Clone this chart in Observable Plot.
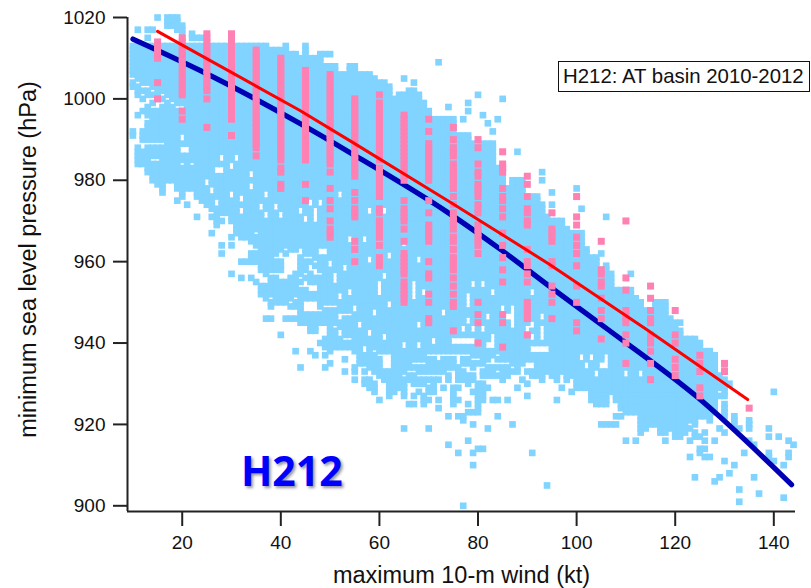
<!DOCTYPE html>
<html>
<head>
<meta charset="utf-8">
<script src="https://cdn.jsdelivr.net/npm/d3@7"></script>
<script src="https://cdn.jsdelivr.net/npm/@observablehq/plot@0.6"></script>
<style>
html,body{margin:0;padding:0;background:#fff}
#wrap{position:relative;width:811px;height:588px;overflow:hidden}
#box{position:absolute;left:558px;top:61px;height:31px;width:252px;box-sizing:border-box;border:1.6px solid #111;background:#fff;
 font:20.4px "Liberation Sans",Arial,sans-serif;color:#111;line-height:28px;padding-left:4px;white-space:nowrap;overflow:hidden}
#tag{position:absolute;left:241px;top:441px;font:700 41px "Open Sans",sans-serif;color:#0000ff;text-shadow:2px 2px 3px rgba(60,60,90,.55);line-height:58px}
</style>
</head>
<body>
<div id="wrap"></div>
<script>
const xTicks = [20, 40, 60, 80, 100, 120, 140];
const yTicks = [900, 920, 940, 960, 980, 1000, 1020];
const xLabel = "maximum 10-m wind (kt)";
const yLabel = "minimum sea level pressure (hPa)";
const boxText = "H212: AT basin 2010-2012";
const tagText = "H212";

// one string per wind (kt), pressure ranges in hPa
const cloudStart = 10;
const cloudColumns = [
"1013-1006 1004 1003 992 991",
"1017 1013-1005 1003 1002 1001 996 988-984",
"1013-1004 1002 1000 997 992-990 987-984",
"1017 1015 1013-1004 1002 1001 998-996 994-990 988-982",
"1017 1013-1003 1001 999 997-990 988-986 984-980",
"1020 1013-1000 997-990 988-986 984-979",
"1013-1002 1000 998-990 988-977",
"1020 1019 1018 1013-1001 999-980",
"1020 1019 1018 1013-1000 998-980",
"1020 1019 1018 1017 1013-999 997-978 975",
"1018 1017 1016 1013-999 997-985 983-976",
"1013-978 974",
"1016 1015 1013-985 983-978",
"1015 1013-976 971",
"1015 1013-975",
"1013-974",
"1013-973 971 967",
"1013-984 981-969",
"1013-984 981-972 970 964 962",
"1013-972",
"1013-970 966 964 957",
"1013-967",
"1013-974 971-966 960 956",
"1013-966 960",
"1013-965 962-960 956",
"1013-968 966-964 962-960 955",
"1013-958 954-952",
"1013-957 954-951 946",
"1012-958 956-952 950-949 946",
"1012-962 960-958 956-951 950",
"1012-963 960-958 955-950 942",
"1013-964 962 955-950 946",
"1011-963 956-951 949 946",
"1011-963 957-952 950-949 946 938",
"1010-964 961-957 955 953-949 948-945 934",
"1013-962 960-958 956 953-951 947-945",
"1010-962 960 957 956-955 952-951 947-945 944-943 938",
"1010-961 959 956-955 952-951 947-945 944-943 937",
"1011-958 956-949 947-945 940",
"1011 1008-950 948-945 941-939 937 934",
"1011 1008-950 948-944 943-941 940-938 935",
"1008-950 948-945 943-941 940-939",
"1006-948 945-944 941-939",
"1006-948 946-942 940-939 936 933",
"1008-948 946-942 940-939",
"1008-942 941-938 934-933 931",
"1006-942 941-939 938-935",
"1006-943 942-940 937-935 933 931-930",
"1006-944 941-935 934 931-929",
"1005-944 943-939 937-933 930-928",
"1004-938 936-932 926",
"1004-938 933-931",
"1003-938 933-930 929-927",
"1000-930 929-928",
"1001-934 933-929",
"1005 1001-933 931-927 919",
"1002-936 935-934 932-931 925",
"1004 1002-936 934 932-930 927 925",
"1001-936 934-933 931-930 928",
"999-936 934-933 931-930 927-925",
"997-938 936-933 931 929-928 926 919",
"995-938 936-933 931-928",
"1009 995-938 936-933 931 926 924",
"995-938 936-933 929",
"998 995-938 936-934 932-931 922 915",
"995-938 936-934 929-925",
"991-938 934-931 929 926 922 913",
"995 991-938 936-935 933-931 922 921 900",
"999 997 991-938 936-935 932-931 930 925 923 916",
"989-937 935-934 932-931 928 923 920 913 910",
"1001 989-937 935 930-925 924 923 914",
"996 989-935 933-932 930-926 914",
"994 989-936 934-932 929 919",
"992 989-937 934-932 926",
"995 983-938 936 934 932 926 922",
"1000 983-936 934-931",
"978-936 934-932 926",
"980-935 933 920",
"987 980-933 929",
"980-935 931",
"976-936 933 930 927",
"976-936 933-932 913",
"976-932",
"982 980 974-931",
"971-933 905",
"977 974 970-932",
"970-932 931 926",
"970-933 929",
"968-931",
"967-932 928",
"978 967-929",
"973 967-929",
"963-929",
"961-926",
"961-925",
"962 958-925 920",
"971 959-925 920",
"957-928 920",
"953-926 922 920",
"953-924 922",
"953-923 916",
"957 953-923",
"951-923 916",
"950-918",
"948-919",
"948-920",
"950-920",
"950-918",
"950-918 916",
"946-919",
"945-917",
"945 943-917",
"941-918",
"941-921 919 916 912",
"941-920 918 917 907",
"940-922 917 914 913",
"938-922 918 916 914 912",
"938-921 912",
"937-923 916 906",
"932-929 927 919 907",
"934 931-927 925-922 918 911",
"930 908",
"922-920 910",
"919 904 901",
"913",
"921-919 916",
"915 907",
"903",
"",
"919 917 913 912",
"928 911",
"917",
"910 902",
"916 913 912",
"915"
];

// thin white slits in the cloud: wind and pressure of each slit
const slitWinds = [58,61,57,65,62,68,61,67,60,58,79,81,78,83,73,78,86,87,81,67,20,20,21,34,37,36,39,45,47,34,30,28,31,25,26,27,30,32,37,40,44,47,46,48,52,54,49,50,51,52,48,50,53,51,52,55,54,60,62,61,60,62,59,56,61,68,78,79,73,78,67,69,71,68,65,78,82,86,91,93,77,79,83,91,93,82,83,91,93,72,75,76,77,78,79,103,106,102,105,104,110,113,91,87,85,87,93,93,87,90,91,93,94,92,101,103,106,106];
const slitPressures = [973,973,966,965,962,961,957,955,953,961,955,955,952,953,948,946,947,949,944,952,991,988,988,979,977,974,974,971,971,982,984,986,986,980,978,975,977,976,972,972,973,973,975,975,977,966,963,960,957,952,963,960,959,956,952,949,953,953,962,957,955,950,948,945,942,945,946,944,948,950,954,953,941,940,940,946,947,947,945,944,944,944,942,942,942,940,940,939,939,937,941,941,941,941,941,937,937,935,935,933,933,933,953,949,949,947,947,944,945,944,942,942,939,939,937,937,937,935];

// subset cloud (pink): reported winds every 5 kt
const pinkWinds = [15,20,25,30,35,40,45,50,55,60,65,70,75,80,85,90,95,100,105,110,115,120,125,130,135];
const pinkColumns = [
"1014-1010 1004 1000",
"1015-1001 997 995",
"1016-1002 1000 993",
"1016-995 991",
"1012-1000 999-992 991-988 986",
"1010-985 983-982 979-978",
"1007-985 979 975",
"1006-985 984 982 978 975 973 970 968-966",
"1000-981 977 975 973-971 965 963 960",
"1001 999-985 983-976 973-972 970-966 964 961-959",
"996-980 975 973-970 968 965 962-957 955-950",
"995 992 989-980 975 972 969-965 960 957-956 952 950 946-945",
"993 990 988-986 984-978 976 974 972-968 966-965 963 961-958 956 954 952 950-949 943",
"990 988 984 982-981 979-976 974-972 969-964 962 950 947 945 940",
"987 984-982 978 976-975 973 971 967 964 961 958 955 947 945 939",
"981 979 976 973-972 970-969 963 960-959 957 955 950-946 942",
"972 968-965 960-959 954 952 950 946",
"976 971 969 966 964 962 959 954 950 945 943",
"965 958-957 955-954 951 948 946 941",
"970 956 953 948-945 942 940 935",
"954 951 948 946-945 942-940 938 935 931",
"948 942 940 936 934 932",
"937 935 933 929 927",
"935 933",
"924"
];

const navyWind = [10, 23.6, 43.8, 53.9, 74.1, 84.8, 94.3, 106.5, 124.6, 143.6];
const navyPressure = [1014.7, 1007, 994, 986.9, 971.9, 962.8, 954.1, 943.2, 926.6, 905.2];
const redWind = [15, 43.8, 53.9, 74.8, 94.3, 114.5, 134.7];
const redPressure = [1016.6, 997.2, 989.8, 974.3, 959.5, 943.1, 926.1];

function expand(wind, column) {
  const out = [];
  for (const tok of column.split(" ").filter(Boolean)) {
    const [a, b] = tok.split("-").map(Number);
    const lo = b === undefined ? a : b;
    for (let p = a; p >= lo; p--) out.push({wind, pressure: p});
  }
  return out;
}
const slitKeys = new Set(slitWinds.flatMap((w, i) => [w + ":" + slitPressures[i], w + ":" + (slitPressures[i] - 1)]));
const cloud = cloudColumns.flatMap((c, i) => expand(cloudStart + i, c)).filter(d => !slitKeys.has(d.wind + ":" + d.pressure));
const pink = pinkColumns.flatMap((c, i) => expand(pinkWinds[i], c));
const navy = navyWind.map((w, i) => ({wind: w, pressure: navyPressure[i]}));
const red = redWind.map((w, i) => ({wind: w, pressure: redPressure[i]}));

const font = '"Liberation Sans", Arial, sans-serif';
const chart = Plot.plot({
  width: 811,
  height: 588,
  marginLeft: 127,
  marginRight: 16,
  marginTop: 17,
  marginBottom: 77,
  style: {fontFamily: font, fontSize: "19px", color: "#111", background: "#fff"},
  x: {domain: [8.9, 144.4]},
  y: {domain: [898.6, 1020]},
  marks: [
    Plot.dot(cloud, {x: "wind", y: "pressure", symbol: "square", r: 3.75, fill: "#80d4ff", stroke: "none"}),
    Plot.line(navy, {x: "wind", y: "pressure", stroke: "#0000b4", strokeWidth: 5.2, curve: "monotone-x"}),
    Plot.dot(pink, {x: "wind", y: "pressure", symbol: "square", r: 3.95, fill: "#ff80b3", stroke: "none"}),
    Plot.line(red, {x: "wind", y: "pressure", stroke: "#ff0000", strokeWidth: 3, curve: "linear"}),
    Plot.axisX({ticks: xTicks, tickSize: 15, tickPadding: 9, label: null, strokeWidth: 2, stroke: "#222"}),
    Plot.axisY({ticks: yTicks, tickSize: 14, tickPadding: 8, label: null, tickFormat: d => String(d), strokeWidth: 2, stroke: "#222"}),
    Plot.ruleX([8.9], {stroke: "#222", strokeWidth: 2}),
    Plot.ruleY([898.6], {stroke: "#222", strokeWidth: 2}),
    Plot.text([xLabel], {frameAnchor: "bottom", dy: 71, fontSize: 23.5, fill: "#111"}),
    Plot.text([yLabel], {frameAnchor: "left", textAnchor: "middle", dx: -99, dy: -5, rotate: -90, fontSize: 23.5, fill: "#111"})
  ]
});
const wrap = document.getElementById("wrap");
wrap.appendChild(chart);
const box = document.createElement("div"); box.id = "box"; box.textContent = boxText; wrap.appendChild(box);
const tag = document.createElement("div"); tag.id = "tag"; tag.textContent = tagText; wrap.appendChild(tag);
</script>
</body>
</html>
